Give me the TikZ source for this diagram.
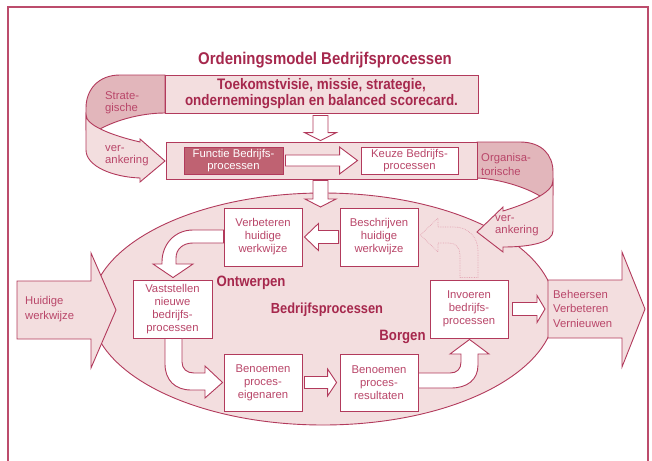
\documentclass[tikz,border=0pt]{standalone}
\usepackage{fontspec}
\setmainfont{Liberation Sans}
\newfontfamily\cnd[FakeStretch=0.88]{Liberation Sans}
\usetikzlibrary{calc}
\definecolor{crim}{HTML}{B23A5C}
\definecolor{crimtext}{HTML}{A6284D}
\definecolor{boxtext}{HTML}{B94669}
\definecolor{pinkfill}{HTML}{F3DEDF}
\definecolor{darkfill}{HTML}{E2B6BB}
\definecolor{funcfill}{HTML}{BF6272}
\definecolor{dotc}{HTML}{E3A3B2}
\definecolor{framec}{HTML}{BC4C6C}
% horizontal block arrow: #1 start, #2 tip, #3 shaft half, #4 head half, #5 head base offset from tip
\newcommand\hblk[5]{\draw[blk] let \p1=#1, \p2=#2 in
  (\x1,{\y2+#3pt}) -- ({\x2+(#5pt)},{\y2+#3pt}) -- ({\x2+(#5pt)},{\y2+#4pt}) -- (\x2,\y2)
  -- ({\x2+(#5pt)},{\y2-#4pt}) -- ({\x2+(#5pt)},{\y2-#3pt}) -- (\x1,{\y2-#3pt}) -- cycle;}
% vertical block arrow
\newcommand\vblk[5]{\draw[blk] let \p1=#1, \p2=#2 in
  ({\x2+#3pt},\y1) -- ({\x2+#3pt},{\y2+(#5pt)}) -- ({\x2+#4pt},{\y2+(#5pt)}) -- (\x2,\y2)
  -- ({\x2-#4pt},{\y2+(#5pt)}) -- ({\x2-#3pt},{\y2+(#5pt)}) -- ({\x2-#3pt},\y1) -- cycle;}
\begin{document}
\begin{tikzpicture}[x=1pt,y=-1pt,line join=miter,
  outl/.style={draw=crim, line width=0.9pt},
  pbox/.style={outl, fill=white, minimum width=78pt, minimum height=58pt, inner sep=0pt,
    align=center, text=boxtext, font=\fontsize{11.3}{13}\selectfont},
  blk/.style={outl, fill=white},
  lbl/.style={text=boxtext, align=left, inner sep=0pt, font=\fontsize{11.3}{12}\selectfont},
  boldlbl/.style={text=crimtext, inner sep=0pt, font=\cnd\bfseries\fontsize{15}{16}\selectfont},
]
\useasboundingbox (0,0) rectangle (652,460);
% frame
\draw[draw=framec, line width=1.3pt] (8,7) rectangle (648,475);

% central ellipse
\draw[outl, fill=pinkfill] (323,309) ellipse [x radius=232pt, y radius=116pt];

% input / output arrows
\draw[outl, fill=pinkfill] (17,281) -- (91,281) -- (91,253) -- (116,310) -- (91,368) -- (91,339) -- (17,339) -- cycle;
\draw[outl, fill=pinkfill] (548,280) -- (622,280) -- (622,252) -- (645,309) -- (622,367) -- (622,338) -- (548,338) -- cycle;
\node[lbl, anchor=west, font=\fontsize{11.3}{15}\selectfont] (huid) at (25,309.5) {Huidige\\werkwijze};
\node[lbl, anchor=west, font=\fontsize{11.3}{14.5}\selectfont] (beheer) at (553,308.5) {Beheersen\\Verbeteren\\Vernieuwen};

% left ribbon (strategische verankering)
\draw[outl, fill=darkfill] (165,75) -- (120,75) .. controls (98,75) and (86,90) .. (86,108) -- (86,130) -- (95,132) .. controls (112,121) and (140,113) .. (165,113) -- cycle;
\node[outl, fill=pinkfill, minimum width=313pt, minimum height=38pt, inner sep=0pt, align=center,
  text=crimtext, font=\cnd\bfseries\fontsize{15.25}{16}\selectfont] (top) at (321.5,94)
  {Toekomstvisie, missie, strategie,\\ondernemingsplan en balanced scorecard.};
\draw[outl, fill=pinkfill] (86,115) -- (86,150) .. controls (86,166) and (112,177) .. (140,178) -- (140,182) -- (165,161) -- (140,139) -- (140,142) .. controls (110,135) and (86,125) .. (86,115) -- cycle;
\node[lbl, anchor=west] (strat) at (105,103) {Strate-\\gische};
\node[lbl, anchor=west] (veranl) at (105,156) {ver-\\ankering};

% right ribbon (organisatorische verankering)
\draw[outl, fill=darkfill] (477,142) -- (520,142) .. controls (542,142) and (553,155) .. (553,172) -- (553,195) -- (546,200) .. controls (530,188) and (500,179) .. (477,178) -- cycle;
\node[outl, fill=pinkfill, minimum width=311pt, minimum height=37pt, inner sep=0pt] (mid) at (321.5,160.5) {};
\draw[outl, fill=pinkfill] (553,181) -- (553,231) .. controls (553,242) and (532,247) .. (503,247) -- (503,252) -- (477,232) -- (503,207) -- (503,211) .. controls (526,204) and (553,193) .. (553,181) -- cycle;
\node[lbl, anchor=west, font=\fontsize{11.3}{13.5}\selectfont] (org) at (481,164.5) {Organisa-\\torische};
\node[lbl, anchor=west] (veranr) at (495,226) {ver-\\ankering};

% boxes in the middle band
\node[outl, fill=funcfill, minimum width=99pt, minimum height=27pt, inner sep=0pt, align=center,
  text=white, font=\fontsize{11.3}{11.5}\selectfont] (func) at (233.5,160.5) {Functie Bedrijfs-\\processen};
\node[outl, fill=white, minimum width=97pt, minimum height=27pt, inner sep=0pt, align=center,
  text=boxtext, font=\fontsize{11.3}{11.5}\selectfont] (keuze) at (409.5,160.5) {Keuze Bedrijfs-\\processen};
\hblk{($(func.east)+(2,0)$)}{($(keuze.west)+(-3,0)$)}{5.5}{13.5}{-18}

% down arrows
\coordinate (elltop) at (320.5,207);
\vblk{($(top.south)+(-1,2)$)}{($(mid.north)+(-1,-1)$)}{7.5}{16}{8}
\vblk{($(mid.south)+(-1,1)$)}{(elltop)}{7.5}{15.5}{8}

% process boxes
\node[pbox] (verb) at (263,237) {Verbeteren\\huidige\\werkwijze};
\node[pbox] (besch) at (379,237) {Beschrijven\\huidige\\werkwijze};
\node[pbox, minimum width=79pt] (vast) at (172.5,309) {Vaststellen\\nieuwe\\bedrijfs-\\processen};
\node[pbox] (invo) at (469,309) {Invoeren\\bedrijfs-\\processen};
\node[pbox, minimum height=57pt] (eig) at (263,382.5) {Benoemen\\proces-\\eigenaren};
\node[pbox, minimum height=57pt] (res) at (379,382.5) {Benoemen\\proces-\\resultaten};

% straight arrows
\hblk{($(besch.west)+(-1,0)$)}{($(verb.east)+(2,0)$)}{6.5}{13.5}{14}
\hblk{($(eig.east)+(2,0)$)}{($(res.west)+(-3,0)$)}{6}{13.5}{-9}
\coordinate (bhL) at (548,309);
\hblk{($(invo.east)+(4,0)$)}{($(bhL)+(-3,0)$)}{6.5}{13.5}{-8}

% curved arrows
\draw[blk] ($(verb.west)+(0,-7)$) -- (193,230) .. controls (175,230) and (162,244) .. (162,262) -- (162,264) -- (153,264)
  -- ($(vast.north)+(0.5,-2)$) -- (193,264) -- (176,264) -- (176,258) .. controls (176,249) and (183,243) .. (193,243)
  -- ($(verb.west)+(0,6)$) -- cycle;
\draw[blk] ($(vast.south)+(-7.5,0)$) -- (165,364) .. controls (165,380) and (175,390) .. (191,390) -- (205,390) -- (205,398)
  -- ($(eig.west)+(-1,0)$) -- (205,366) -- (205,373) -- (194,373) .. controls (187,373) and (182,369) .. (182,362)
  -- ($(vast.south)+(9.5,0)$) -- cycle;
\draw[blk] ($(res.east)+(0,-9.5)$) -- (450,373) .. controls (457,373) and (461,369) .. (461,362) -- (461,354) -- (450,354)
  -- ($(invo.south)+(0.5,1)$) -- (489,354) -- (478,354) -- (478,365) .. controls (478,380) and (467,388) .. (451,388)
  -- ($(res.east)+(0,5.5)$) -- cycle;
% faint dotted feedback arrow
\draw[draw=dotc, densely dotted, line width=0.7pt] ($(invo.north)+(-9,-2)$) -- (460,255) .. controls (460,248) and (456,243) .. (449,243)
  -- (438,243) -- (438,252) -- ($(besch.east)+(2,-2)$) -- (438,218) -- (438,227) -- (454,227)
  .. controls (468,227) and (478,237) .. (478,251) -- ($(invo.north)+(9,-2)$) -- cycle;

% labels
\node[boldlbl, font=\cnd\bfseries\fontsize{17}{18}\selectfont, anchor=base] (title) at (325,64) {Ordeningsmodel Bedrijfsprocessen};
\node[boldlbl, anchor=base] (ontw) at (251,286) {Ontwerpen};
\node[boldlbl, anchor=base, font=\cnd\bfseries\fontsize{14.6}{16}\selectfont] (bp) at (327,313) {Bedrijfsprocessen};
\node[boldlbl, anchor=base] (borg) at (402.5,340) {Borgen};
\end{tikzpicture}
\end{document}
